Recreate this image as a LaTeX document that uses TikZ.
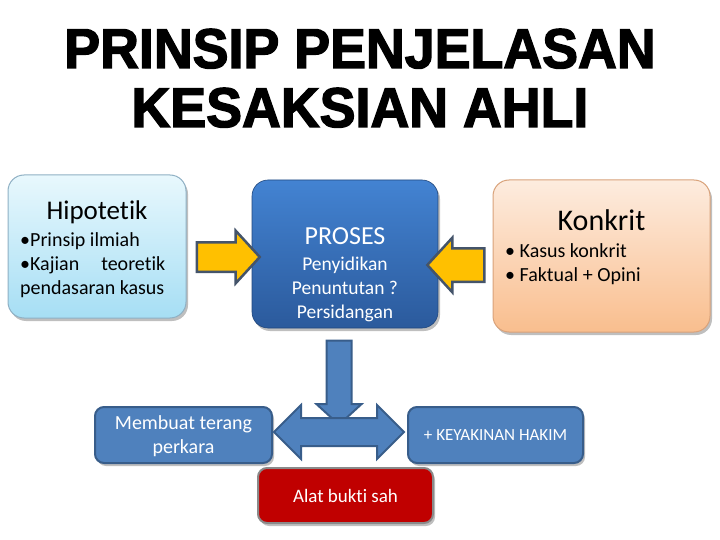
\documentclass[tikz,border=0pt]{standalone}
\usepackage{fontspec}
\setmainfont{Carlito}[Ligatures={NoCommon,NoContextual}]
\newfontfamily\titlefont[FakeBold=2.5]{Liberation Sans Bold}
\usetikzlibrary{shapes.arrows,shadows}
\definecolor{hiptop}{HTML}{E8F8FD}
\definecolor{hipbot}{HTML}{A6DEF4}
\definecolor{hipline}{HTML}{8FB0C4}
\definecolor{protop}{HTML}{4383D2}
\definecolor{probot}{HTML}{2B5A9C}
\definecolor{kontop}{HTML}{FDECDF}
\definecolor{konbot}{HTML}{F9BE8E}
\definecolor{konline}{HTML}{D9A27A}
\definecolor{bluefill}{HTML}{4F81BD}
\definecolor{blueline}{HTML}{385D8A}
\definecolor{gold}{HTML}{FFC000}
\definecolor{goldline}{HTML}{44546A}
\definecolor{redfill}{HTML}{C00000}
\definecolor{redline}{HTML}{8A8A8A}
\tikzset{
  shadowed/.style={drop shadow={shadow xshift=2pt,shadow yshift=-3pt,opacity=.25,fill=black}},
  bigbox/.style={rectangle,rounded corners=16,inner sep=0,shadowed},
  smallbox/.style={rectangle,rounded corners=9,inner sep=0,fill=bluefill,draw=blueline,line width=2,shadowed},
  yarrow/.style={single arrow,fill=gold,draw=goldline,line width=2.5,inner xsep=0,single arrow tip angle=95},
  barrow/.style={fill=bluefill,draw=blueline,line width=2,inner xsep=0},
  body/.style={font=\fontsize{20}{24}\selectfont},
}
\begin{document}
\begin{tikzpicture}[x=1pt,y=-1pt]
\useasboundingbox (0,0) rectangle (720,540);
\fill[white] (0,0) rectangle (720,540);
% title
\node[anchor=base,inner sep=0,xscale=0.96] (t1) at (360,68) {\titlefont\fontsize{56}{60}\selectfont PRINSIP PENJELASAN};
\node[anchor=base,inner sep=0,xscale=0.96] (t2) at (360,127) {\titlefont\fontsize{56}{60}\selectfont KESAKSIAN AHLI};
% big boxes
\node[bigbox,minimum width=178,minimum height=143,top color=hiptop,bottom color=hipbot,draw=hipline,line width=1] (hip) at (97,246.5) {};
\node[bigbox,minimum width=186,minimum height=148,top color=protop,bottom color=probot,draw=probot!80!black,line width=0.6] (pro) at (345,254) {};
\node[bigbox,minimum width=217,minimum height=152,top color=kontop,bottom color=konbot,draw=konline,line width=1] (kon) at (601.5,256) {};
% texts of big boxes
\node[anchor=base,inner sep=0] (hipt) at (hip.center|-0,219) {\fontsize{27}{30}\selectfont Hipotetik};
\node[anchor=base west,inner sep=0,body] (hip1) at (20,246) {•Prinsip ilmiah};
\node[anchor=base west,inner sep=0,body] (hip2) at (20,270) {\makebox[145pt][s]{•Kajian teoretik}};
\node[anchor=base west,inner sep=0,body] (hip3) at (20,294) {pendasaran kasus};
\node[anchor=base,inner sep=0,text=white] (prot) at (pro.center|-0,244) {\fontsize{26}{30}\selectfont PROSES};
\node[anchor=base,inner sep=0,text=white,font=\fontsize{19.5}{24}\selectfont] (pro1) at (pro.center|-0,270) {Penyidikan};
\node[anchor=base,inner sep=0,text=white,font=\fontsize{19.5}{24}\selectfont] (pro2) at (pro.center|-0,294) {Penuntutan ?};
\node[anchor=base,inner sep=0,text=white,font=\fontsize{19.5}{24}\selectfont] (pro3) at (pro.center|-0,318) {Persidangan};
\node[anchor=base,inner sep=0] (kont) at (kon.center|-0,230) {\fontsize{30}{34}\selectfont Konkrit};
\node[anchor=base west,inner sep=0,body] (kon1) at (505,257) {• Kasus konkrit};
\node[anchor=base west,inner sep=0,body] (kon2) at (505,281) {• Faktual + Opini};
% small boxes
\node[smallbox,minimum width=177,minimum height=56] (mem) at (183.5,435) {};
\node[anchor=base,inner sep=0,text=white,body] (mem1) at (mem.center|-0,429) {Membuat terang};
\node[anchor=base,inner sep=0,text=white,body] (mem2) at (mem.center|-0,453) {perkara};
\node[smallbox,minimum width=175,minimum height=56] (key) at (495.5,435) {\fontsize{17}{20}\selectfont\color{white}+ KEYAKINAN HAKIM};
\node[smallbox,minimum width=175,minimum height=55,fill=redfill,draw=redline] (alat) at (345.5,495.5) {\fontsize{19}{22}\selectfont\color{white}Alat bukti sah};
% block arrows
\node[yarrow,minimum height=63,inner ysep=13.5,single arrow head extend=11.5] (a1) at (221.5,257) {};
\node[yarrow,minimum height=57,inner ysep=15.5,single arrow head extend=10.5,shape border rotate=180] (a2) at (463.5,265) {};
\node[barrow,single arrow,minimum height=84,inner ysep=11.5,single arrow head extend=10,single arrow tip angle=95,rotate=270] (a3) at (339,377) {};
\node[barrow,double arrow,minimum height=130,inner ysep=13,double arrow head extend=13,double arrow tip angle=90] (a4) at (339,432) {};
\end{tikzpicture}
\end{document}
